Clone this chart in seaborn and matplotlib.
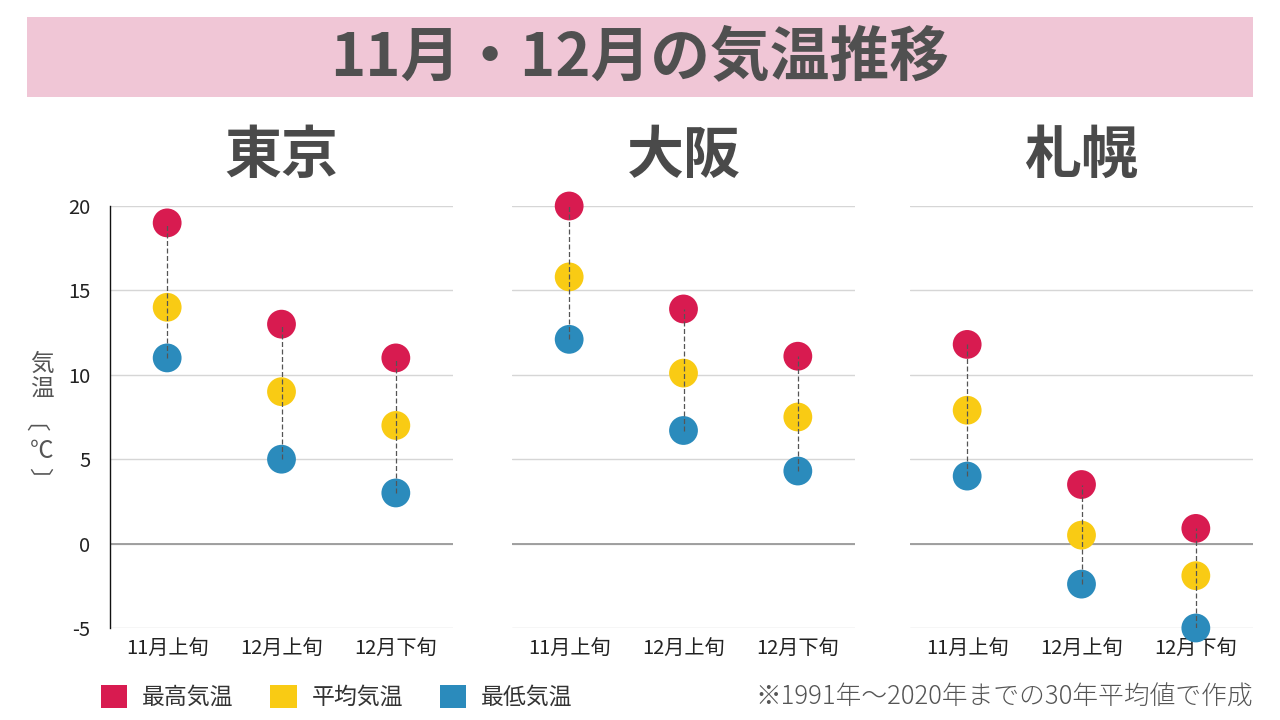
import matplotlib
matplotlib.use("Agg")
import matplotlib.pyplot as plt
from matplotlib.patches import Rectangle, Patch
import seaborn as sns
import pandas as pd

# data
periods = ["11月上旬", "12月上旬", "12月下旬"]
cities = ["東京", "大阪", "札幌"]
series = ["最高気温", "平均気温", "最低気温"]

tokyo_max = [19.0, 13.0, 11.0]
tokyo_mean = [14.0, 9.0, 7.0]
tokyo_min = [11.0, 5.0, 3.0]

osaka_max = [20.0, 13.9, 11.1]
osaka_mean = [15.8, 10.1, 7.5]
osaka_min = [12.1, 6.7, 4.3]

sapporo_max = [11.8, 3.5, 0.9]
sapporo_mean = [7.9, 0.5, -1.9]
sapporo_min = [4.0, -2.4, -5.0]

colors = {"最高気温": "#D81B50", "平均気温": "#F9CB14", "最低気温": "#2B8BBC"}

city_data = {
    "東京": (tokyo_max, tokyo_mean, tokyo_min),
    "大阪": (osaka_max, osaka_mean, osaka_min),
    "札幌": (sapporo_max, sapporo_mean, sapporo_min),
}

sns.set_theme(style="white")
plt.rcParams["font.family"] = ["Noto Sans CJK JP", "DejaVu Sans"]
plt.rcParams["axes.unicode_minus"] = False

W, H = 1280, 720
fig = plt.figure(figsize=(12.8, 7.2), dpi=100)

# title banner
fig.patches.append(Rectangle((27 / W, 1 - 97 / H), (1253 - 27) / W, 80 / H,
                             transform=fig.transFigure, facecolor="#F0C6D6",
                             edgecolor="none", zorder=0))
fig.text(0.5, 1 - 58 / H, "11月・12月の気温推移", ha="center", va="center",
         fontsize=43, fontweight="bold", color="#505050")

lefts = [110, 512, 910]
ax_w = 343
top, bottom = 206, 628

for i, city in enumerate(cities):
    ax = fig.add_axes([lefts[i] / W, 1 - bottom / H, ax_w / W, (bottom - top) / H])
    mx, mn_, lo = city_data[city]
    rows = []
    for name, vals in zip(series, (mx, mn_, lo)):
        for p, v in zip(periods, vals):
            rows.append({"period": p, "series": name, "temp": v})
    df = pd.DataFrame(rows)

    sns.scatterplot(data=df, x="period", y="temp", hue="series", palette=colors,
                    s=430, linewidth=0, alpha=1, ax=ax, legend=False,
                    clip_on=False, zorder=3)
    ax.vlines(range(len(periods)), lo, mx, colors="#555555", linestyles=(0, (4, 2)),
              linewidth=0.9, zorder=4)

    ax.set_xlim(-0.5, 2.5)
    ax.set_ylim(-5, 20)
    ax.set_yticks([-5, 0, 5, 10, 15, 20])
    ax.grid(axis="y", color="#D6D6D6", linewidth=1)
    ax.grid(axis="x", visible=False)
    ax.axhline(0, color="#9A9A9A", linewidth=1.3, zorder=1)
    ax.set_xlabel("")
    ax.set_ylabel("")
    ax.tick_params(axis="x", length=0, pad=8, labelsize=14.5, labelcolor="#222222")
    for s in ["top", "right", "bottom"]:
        ax.spines[s].set_visible(False)
    if i == 0:
        ax.spines["left"].set_color("#111111")
        ax.spines["left"].set_linewidth(1)
        ax.tick_params(axis="y", length=0, pad=14, labelsize=14.5, labelcolor="#222222")
    else:
        ax.spines["left"].set_visible(False)
        ax.tick_params(axis="y", length=0, labelleft=False)
    ax.set_title(city, fontsize=41, fontweight="bold", color="#4A4A4A", pad=24)

# vertical y-axis label: upright kanji, brackets turned to vertical form
ylabel_chars = ["気", "温", "〔", "℃", "〕"]
ylabel_x = [42, 42, 19, 42, 38]
ylabel_y = [364, 390, 435, 452, 479]
ylabel_rot = [0, 0, -90, 0, -90]
for ch, xx, yy, rot in zip(ylabel_chars, ylabel_x, ylabel_y, ylabel_rot):
    fig.text(xx / W, 1 - yy / H, ch, ha="center", va="center", rotation=rot,
             fontsize=17, color="#555555")

# legend
handles = [Patch(facecolor=colors[s], edgecolor="none") for s in series]
fig.legend(handles, series, loc="center left", bbox_to_anchor=(101 / W, 1 - 697 / H),
           ncol=3, frameon=False, fontsize=16.5, handlelength=1.15, handleheight=1.15,
           handletextpad=0.65, columnspacing=1.6, borderpad=0, borderaxespad=0,
           labelcolor="#333333")

fig.text(1253 / W, 1 - 697 / H, "※1991年～2020年までの30年平均値で作成",
         ha="right", va="center", fontsize=18.5, fontweight="light", color="#555555")

fig.savefig("out.png", dpi=100, facecolor="white")
